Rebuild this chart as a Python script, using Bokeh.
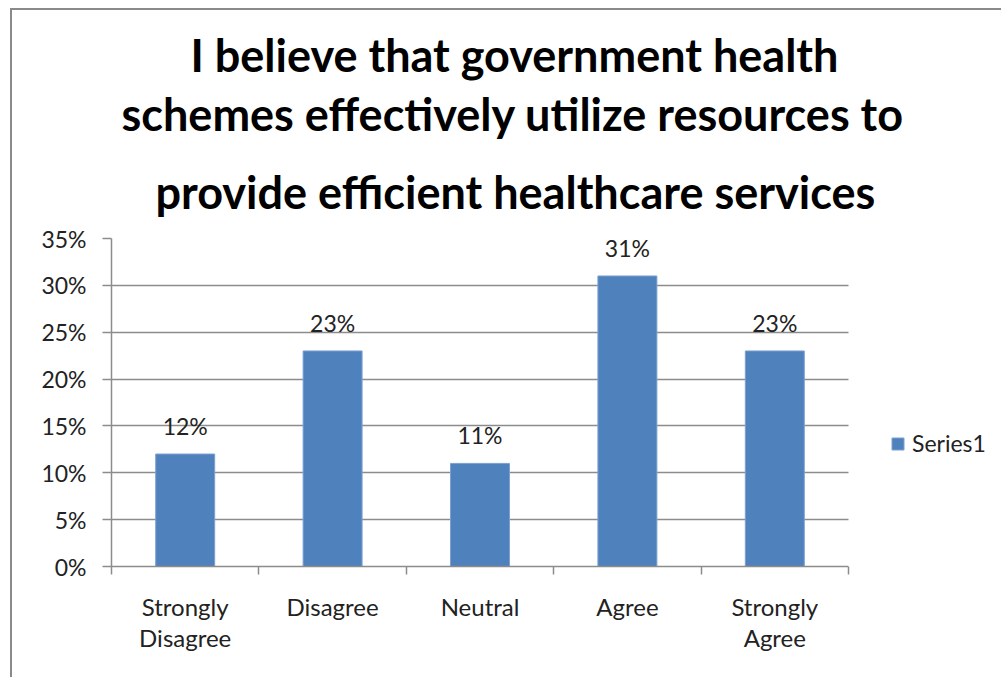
from bokeh.plotting import figure
from bokeh.models import (Range1d, LinearAxis, FixedTicker, Title, BoxAnnotation,
                          NumeralTickFormatter, Legend, LegendItem)
from bokeh.core.properties import value
from bokeh.embed import file_html
from bokeh.resources import INLINE

# ---- data ----
categories = ["Strongly Disagree", "Disagree", "Neutral", "Agree", "Strongly Agree"]
category_labels = ["Strongly\nDisagree", "Disagree", "Neutral", "Agree", "Strongly\nAgree"]
values = [0.12, 0.23, 0.11, 0.31, 0.23]
y_ticks = [0.0, 0.05, 0.10, 0.15, 0.20, 0.25, 0.30, 0.35]
series_name = "Series1"
title_lines = ["I believe that government health",
               "schemes effectively utilize resources to",
               "provide efficient healthcare services"]

# ---- style ----
FONT = "Lato"
BAR = "#4F81BD"
GRID = "#8c8c8c"
TXT = "#222222"
OX, OY = 12, 10                      # page offset of the canvas (margin + border)
W, H = 1003 - OX, 679 - OY
FL, FR, FT, FB = 111, 848, 238, 566   # chart-area edges in page px

n = len(categories)
idx = list(range(n))
unit = (FR - FL) / n                  # px per category
x_end = n - 0.5 + (1003 - FR) / unit  # frame extends to the right edge (legend area)

p = figure(width=W, height=H,
           x_range=Range1d(-0.5, x_end),
           y_range=Range1d(y_ticks[0], y_ticks[-1]),
           output_backend="svg", toolbar_location=None,
           x_axis_location=None,
           min_border_left=FL - OX, min_border_right=0,
           min_border_top=FT - OY, min_border_bottom=H - (FB - OY),
           styles={"margin-left": "10px", "margin-top": "8px",
                   "border-left": "2px solid #8a8a8a", "border-top": "2px solid #8a8a8a"})
p.outline_line_color = None
p.background_fill_color = "white"
p.border_fill_color = "white"

# y axis
ya = p.yaxis[0]
ya.ticker = FixedTicker(ticks=y_ticks, minor_ticks=[])
ya.formatter = NumeralTickFormatter(format="0%")
ya.axis_line_color = GRID
ya.axis_line_width = 1.5
ya.major_tick_line_color = GRID
ya.major_tick_line_width = 1.5
ya.major_tick_out = 9
ya.major_tick_in = 0
ya.minor_tick_line_color = None
ya.major_label_standoff = 16
ya.major_label_text_font = FONT
ya.major_label_text_font_size = "23px"
ya.major_label_text_color = TXT

p.ygrid.ticker = FixedTicker(ticks=y_ticks)
p.ygrid.grid_line_color = GRID
p.ygrid.grid_line_width = 1.5
for g in p.xgrid:
    g.grid_line_color = None

# x axis: labels at category centres, ticks between categories (minor ticks)
xa = LinearAxis(ticker=FixedTicker(ticks=idx, minor_ticks=[i - 0.5 for i in range(n + 1)]),
                major_label_overrides={i: lbl for i, lbl in zip(idx, category_labels)},
                bounds=(-0.5, n - 0.5),
                axis_line_color=GRID, axis_line_width=1.5,
                major_tick_line_color=None, major_tick_out=8, major_tick_in=0,
                minor_tick_line_color=GRID, minor_tick_line_width=1.5,
                minor_tick_out=8, minor_tick_in=0,
                major_label_standoff=17,
                major_label_text_font=FONT,
                major_label_text_font_size="24px",
                major_label_text_color=TXT,
                major_label_text_line_height=1.08)
p.add_layout(xa, "below")

# bars
bars = p.vbar(x=idx, top=values, width=0.4, bottom=0,
              fill_color=BAR, line_color="#7BA0D0", line_width=1)

# data labels
p.text(x=idx, y=values, text=[f"{round(v * 100)}%" for v in values],
       text_align="center", text_baseline="alphabetic", y_offset=-28,
       text_font=value(FONT), text_font_size="23px", text_color=TXT)

# blank out the grid to the right of the chart area (legend area)
p.add_layout(BoxAnnotation(left=n - 0.5, fill_color="white", fill_alpha=1,
                           line_color=None))

# title: three lines stacked above the frame (added bottom line first)
offsets = [79, 10, 44]
standoffs = [3, 3, 40]
for line, off, so in reversed(list(zip(title_lines, offsets, standoffs))):
    p.add_layout(Title(text=line, align="left", offset=off, standoff=so,
                       text_font=FONT, text_font_style="bold", text_font_size="45px",
                       text_color="black", text_line_height=1.0), "above")

# legend (inside the frame, to the right of the chart area)
legend = Legend(items=[LegendItem(label=series_name, renderers=[bars])],
                location=(890 - FL, FB - 457),
                glyph_width=15, glyph_height=15, label_standoff=7,
                label_text_font=FONT, label_text_font_size="23px", label_text_color=TXT,
                label_height=20, padding=0, margin=0, spacing=0,
                border_line_color=None, background_fill_alpha=0)
p.add_layout(legend)

open("out.html", "w").write(file_html(p, INLINE))
